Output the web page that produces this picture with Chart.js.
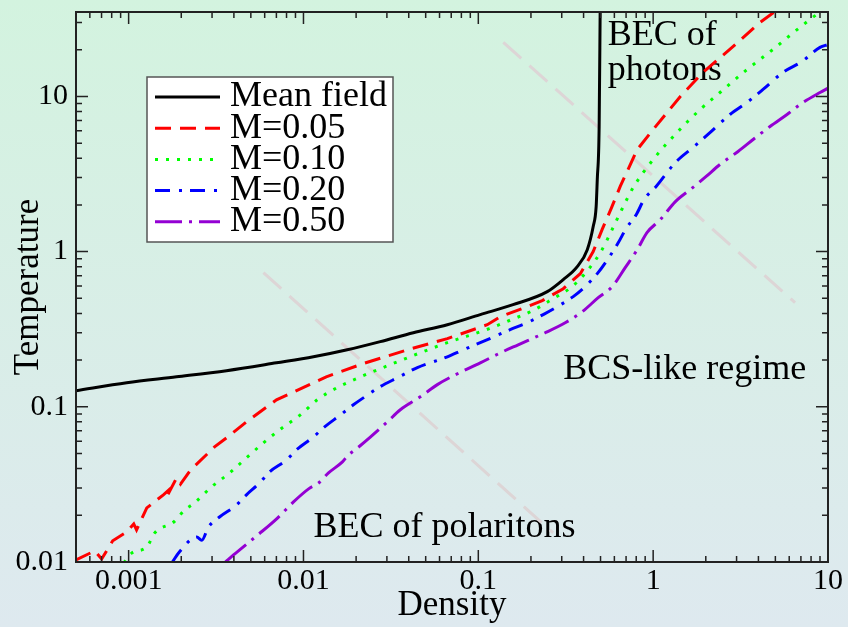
<!DOCTYPE html>
<html>
<head>
<meta charset="utf-8">
<script src="https://cdn.jsdelivr.net/npm/chart.js@4.4.1/dist/chart.umd.min.js"></script>
<style>
  html, body { margin: 0; padding: 0; }
  canvas { display: block; }
</style>
</head>
<body>
<canvas id="phase" width="848" height="627"></canvas>
<script>
// axis ticks
var xTicks = [0.001, 0.01, 0.1, 1, 10]
var xTickLabels = ['0.001', '0.01', '0.1', '1', '10']
var yTicks = [0.01, 0.1, 1, 10]
var yTickLabels = ['0.01', '0.1', '1', '10']

var seriesNames = ['Mean field', 'M=0.05', 'M=0.10', 'M=0.20', 'M=0.50']

// mean field critical temperature
var meanX = [0.0005, 0.000975, 0.00188, 0.00363, 0.00701, 0.0114, 0.0178, 0.0275, 0.0425, 0.0665, 0.1026,
    0.158, 0.248, 0.306, 0.368, 0.42, 0.454, 0.472, 0.479, 0.491, 0.498]
var meanY = [0.127, 0.143, 0.156, 0.171, 0.192, 0.21, 0.233, 0.263, 0.3, 0.338, 0.393,
    0.455, 0.552, 0.66, 0.80, 1.03, 1.45, 1.95, 2.91, 6.4, 40]

// M = 0.05
var m05X = [0.0005, 0.00064, 0.000701, 0.000811, 0.000975, 0.00107, 0.00111, 0.00127, 0.00158, 0.0017,
    0.00165, 0.00188, 0.00198, 0.00226, 0.0029, 0.0031, 0.00363, 0.00472, 0.00701, 0.0135,
    0.022, 0.0393, 0.0665, 0.1125, 0.134, 0.178, 0.232, 0.306, 0.383, 0.454,
    0.511, 0.575, 0.648, 0.811, 1.0, 1.43, 1.93, 2.87, 4.09, 4.98, 5.6]
var m05Y = [0.0103, 0.0118, 0.01045, 0.0137, 0.0156, 0.0176, 0.0161, 0.0223, 0.0271, 0.0292,
    0.0263, 0.0348, 0.0318, 0.0392, 0.0513, 0.0552, 0.0631, 0.080, 0.111, 0.156,
    0.19, 0.233, 0.275, 0.338, 0.381, 0.429, 0.483, 0.577, 0.721, 1.0,
    1.39, 1.89, 2.63, 4.55, 6.12, 10.0, 14.3, 21.0, 30.0, 35.3, 40]

// M = 0.10
var m10X = [0.00094, 0.00104, 0.00127, 0.00141, 0.00181, 0.00209, 0.00238, 0.00298, 0.00378, 0.00472,
    0.0059, 0.0073, 0.0096, 0.012, 0.0156, 0.0212, 0.0314, 0.0466, 0.0665, 0.1156,
    0.1544, 0.204, 0.268, 0.344, 0.425, 0.505, 0.583, 0.665, 0.769, 1.0,
    1.37, 1.86, 2.41, 3.44, 4.85, 6.92, 9.0, 10]
var m10Y = [0.0099, 0.0114, 0.0125, 0.0154, 0.0181, 0.0216, 0.024, 0.0305, 0.0375, 0.0469,
    0.0586, 0.0711, 0.0888, 0.111, 0.133, 0.156, 0.187, 0.223, 0.259, 0.319,
    0.364, 0.416, 0.498, 0.595, 0.765, 1.01, 1.39, 1.89, 2.59, 3.92,
    5.86, 8.25, 10.6, 14.9, 20.1, 27.9, 34.8, 37]

// M = 0.20
var m20X = [0.00178, 0.00195, 0.00245, 0.00262, 0.00286, 0.00331, 0.00414, 0.00472, 0.00561, 0.0064,
    0.008, 0.00912, 0.0114, 0.013, 0.0163, 0.0193, 0.0232, 0.0275, 0.0345, 0.0448,
    0.0665, 0.082, 0.1026, 0.152, 0.19, 0.235, 0.283, 0.349, 0.414, 0.479,
    0.553, 0.631, 0.701, 0.8, 0.888, 1.04, 1.34, 1.69, 2.12, 2.75,
    3.44, 4.25, 5.53, 7.1, 9.0, 10]
var m20Y = [0.01, 0.0116, 0.0145, 0.0138, 0.0168, 0.0195, 0.0233, 0.0271, 0.0323, 0.0381,
    0.0455, 0.0528, 0.064, 0.0732, 0.0888, 0.103, 0.119, 0.135, 0.154, 0.179,
    0.21, 0.233, 0.259, 0.314, 0.348, 0.393, 0.442, 0.513, 0.604, 0.721,
    0.901, 1.14, 1.41, 1.73, 2.17, 2.63, 3.75, 4.69, 5.86, 7.65,
    9.15, 11.1, 14.3, 16.8, 20.7, 21.6]

// M = 0.50
var m50X = [0.00358, 0.00398, 0.00546, 0.0071, 0.00877, 0.0107, 0.0122, 0.0139, 0.0167, 0.0181,
    0.0204, 0.0242, 0.0302, 0.0358, 0.0466, 0.0583, 0.074, 0.1026, 0.134, 0.169,
    0.241, 0.314, 0.393, 0.485, 0.583, 0.692, 0.811, 0.924, 1.1, 1.34,
    1.63, 2.01, 2.41, 3.06, 3.73, 4.66, 5.83, 7.2, 9.0, 10]
var m50Y = [0.01, 0.0111, 0.0149, 0.0192, 0.0244, 0.0296, 0.0323, 0.0375, 0.0442, 0.049,
    0.0544, 0.064, 0.080, 0.0957, 0.116, 0.139, 0.161, 0.192, 0.223, 0.251,
    0.3, 0.348, 0.41, 0.505, 0.595, 0.789, 1.03, 1.33, 1.61, 2.1,
    2.51, 3.05, 3.64, 4.42, 5.28, 6.4, 7.65, 9.15, 10.6, 11.3]

// faint crossover guides between regimes
var guideAX = [0.0059, 0.268]
var guideAY = [0.732, 0.0154]
var guideBX = [0.139, 6.48]
var guideBY = [22.3, 0.469]

// region labels, anchored at the left end of the text baseline
var noteText = ['BEC of', 'photons', 'BCS-like regime', 'BEC of polaritons']
var noteX = [0.55, 0.55, 0.306, 0.0114]
var noteY = [21.6, 12.7, 0.152, 0.0145]

var serif = '"Liberation Serif", "Times New Roman", serif'

function points(xs, ys) {
    return xs.map(function (v, i) { return {x: v, y: ys[i]} })
}

function curve(label, xs, ys, color, dash, smooth) {
    return {
        label: label,
        data: points(xs, ys),
        borderColor: color,
        borderWidth: 3,
        borderDash: dash,
        pointRadius: 0,
        fill: false,
        cubicInterpolationMode: smooth ? 'monotone' : 'default',
        clip: 0
    }
}

function guide(xs, ys) {
    return {
        label: '',
        data: points(xs, ys),
        borderColor: '#ddd5d6',
        borderWidth: 3,
        borderDash: [24, 11],
        pointRadius: 0,
        fill: false,
        clip: 0
    }
}

// 1..9 times each power of ten between min and max
function logMarks(min, max) {
    var out = []
    for (var e = Math.floor(Math.log10(min)); e <= Math.ceil(Math.log10(max)); e++) {
        for (var m = 1; m <= 9; m++) {
            var v = m * Math.pow(10, e)
            if (v >= min * 0.999 && v <= max * 1.001) out.push({v: v, major: m === 1})
        }
    }
    return out
}

var frame = {
    id: 'frame',
    beforeDraw: function (chart) {
        var ctx = chart.ctx
        var g = ctx.createLinearGradient(0, 0, 0, chart.height)
        g.addColorStop(0, '#d3f3df')
        g.addColorStop(1, '#dee9ef')
        ctx.save()
        ctx.fillStyle = g
        ctx.fillRect(0, 0, chart.width, chart.height)
        ctx.restore()
    },
    beforeDatasetsDraw: function (chart) {
        var ctx = chart.ctx
        var x = chart.scales.x, y = chart.scales.y
        ctx.save()
        ctx.fillStyle = '#000'
        ctx.font = '36px ' + serif
        ctx.textAlign = 'left'
        ctx.textBaseline = 'alphabetic'
        noteText.forEach(function (t, i) {
            ctx.fillText(t, x.getPixelForValue(noteX[i]), y.getPixelForValue(noteY[i]))
        })
        ctx.restore()
    },
    afterDatasetsDraw: function (chart) {
        var ctx = chart.ctx
        var a = chart.chartArea
        var x = chart.scales.x, y = chart.scales.y
        ctx.save()

        // inward tick marks on all four sides
        ctx.strokeStyle = '#222'
        ctx.lineWidth = 1.5
        ctx.beginPath()
        logMarks(x.min, x.max).forEach(function (t) {
            var px = x.getPixelForValue(t.v)
            var len = t.major ? 12 : 6
            ctx.moveTo(px, a.bottom); ctx.lineTo(px, a.bottom - len)
            ctx.moveTo(px, a.top); ctx.lineTo(px, a.top + len)
        })
        logMarks(y.min, y.max).forEach(function (t) {
            var py = y.getPixelForValue(t.v)
            var len = t.major ? 12 : 6
            ctx.moveTo(a.left, py); ctx.lineTo(a.left + len, py)
            ctx.moveTo(a.right, py); ctx.lineTo(a.right - len, py)
        })
        ctx.stroke()

        ctx.lineWidth = 2
        ctx.strokeRect(a.left, a.top, a.right - a.left, a.bottom - a.top)

        // legend box
        var bx = a.left + 71, by = a.top + 65, bw = 246, bh = 165
        ctx.fillStyle = '#fff'
        ctx.fillRect(bx, by, bw, bh)
        ctx.strokeStyle = '#555'
        ctx.lineWidth = 1.5
        ctx.strokeRect(bx, by, bw, bh)
        ctx.font = '36px ' + serif
        ctx.textAlign = 'left'
        ctx.textBaseline = 'middle'
        chart.data.datasets.slice(0, seriesNames.length).forEach(function (ds, i) {
            var ry = by + 20 + i * 31.2
            ctx.strokeStyle = ds.borderColor
            ctx.lineWidth = ds.borderWidth
            ctx.setLineDash(ds.borderDash || [])
            ctx.beginPath()
            ctx.moveTo(bx + 8, ry)
            ctx.lineTo(bx + 73, ry)
            ctx.stroke()
            ctx.setLineDash([])
            ctx.fillStyle = '#000'
            ctx.fillText(ds.label, bx + 83, ry)
        })
        ctx.restore()
    }
}

new Chart('phase', {
    type: 'line',
    data: {
        datasets: [
            curve(seriesNames[0], meanX, meanY, '#000000', [], true),
            curve(seriesNames[1], m05X, m05Y, '#ff0000', [16, 9], false),
            curve(seriesNames[2], m10X, m10Y, '#00ff00', [3, 8], true),
            curve(seriesNames[3], m20X, m20Y, '#0000ff', [15, 9, 3, 8], true),
            curve(seriesNames[4], m50X, m50Y, '#9400d3', [27, 7, 3, 7], true),
            guide(guideAX, guideAY),
            guide(guideBX, guideBY)
        ]
    },
    options: {
        responsive: false,
        animation: false,
        devicePixelRatio: 1,
        layout: {
            padding: {top: 12, right: 20, left: 0, bottom: 0}
        },
        plugins: {
            legend: {display: false},
            tooltip: {enabled: false}
        },
        scales: {
            x: {
                type: 'logarithmic',
                min: 0.0005,
                max: 10,
                afterBuildTicks: function (s) {
                    s.ticks = xTicks.map(function (v) { return {value: v} })
                },
                afterFit: function (s) {
                    s.height = 65
                    s.paddingLeft = 0
                    s.paddingRight = 0
                },
                grid: {display: false, drawTicks: false},
                border: {display: false},
                ticks: {
                    autoSkip: false,
                    maxRotation: 0,
                    padding: 1,
                    color: '#000',
                    font: {family: serif, size: 30},
                    callback: function (v, i) { return xTickLabels[i] }
                },
                title: {
                    display: true,
                    text: 'Density',
                    color: '#000',
                    font: {family: serif, size: 35},
                    padding: {top: 0, bottom: 0}
                }
            },
            y: {
                type: 'logarithmic',
                min: 0.01,
                max: 35,
                afterBuildTicks: function (s) {
                    s.ticks = yTicks.map(function (v) { return {value: v} })
                },
                afterFit: function (s) {
                    s.width = 76
                    s.paddingTop = 0
                    s.paddingBottom = 0
                },
                grid: {display: false, drawTicks: false},
                border: {display: false},
                ticks: {
                    autoSkip: false,
                    padding: 8,
                    color: '#000',
                    font: {family: serif, size: 30},
                    callback: function (v, i) { return yTickLabels[i] }
                },
                title: {
                    display: true,
                    text: 'Temperature',
                    color: '#000',
                    font: {family: serif, size: 35},
                    padding: {top: 8, bottom: 0}
                }
            }
        }
    },
    plugins: [frame]
})
</script>
</body>
</html>
